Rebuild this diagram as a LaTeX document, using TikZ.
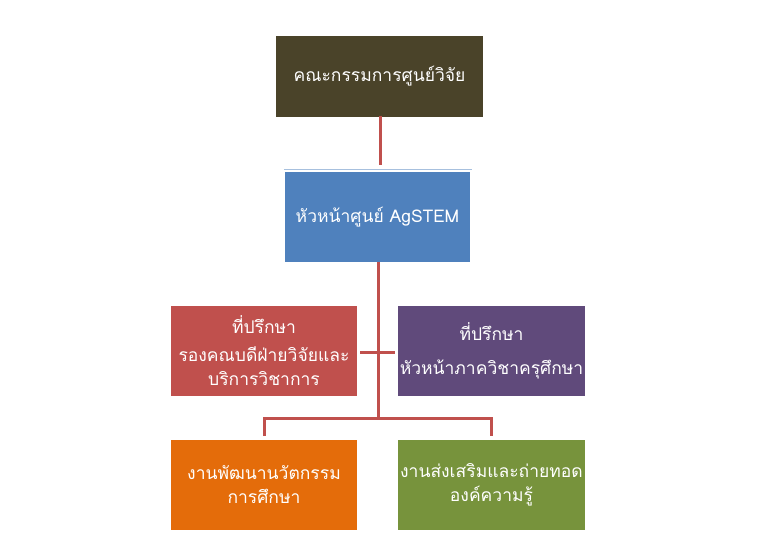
\documentclass[tikz,border=0pt]{standalone}
\usepackage{fontspec}
\newfontfamily\thaifont[Script=Thai]{Loma}
\definecolor{topc}{HTML}{4A4329}
\definecolor{bluec}{HTML}{4F81BD}
\definecolor{redc}{HTML}{C0504D}
\definecolor{purc}{HTML}{604A7B}
\definecolor{orac}{HTML}{E46C0A}
\definecolor{grnc}{HTML}{77933C}
\definecolor{lnc}{HTML}{C0504D}
\begin{document}
\begin{tikzpicture}[x=1pt,y=-1pt,
  box/.style={minimum width=186pt,minimum height=90pt,inner sep=2pt,text=white,align=center,font=\thaifont\fontsize{17.5}{24}\selectfont},
  conn/.style={draw=lnc,line width=3pt}]
\useasboundingbox (0,0) rectangle (758,544);
\node[box,fill=topc,minimum width=207pt,minimum height=81pt] (top) at (379.5,76) {คณะกรรมการศูนย์วิจัย};
\node[box,fill=bluec,minimum width=185pt] (head) at (377.5,217) {หัวหน้าศูนย์ AgSTEM};
\draw[bluec!50,line width=1pt] ([xshift=-1pt,yshift=2pt]head.north west) -- ([xshift=2pt,yshift=2pt]head.north east);
\node[box,fill=redc] (adv1) at (264,351) {ที่ปรึกษา\\[4pt]รองคณบดีฝ่ายวิจัยและ\\บริการวิชาการ};
\node[box,fill=purc,minimum width=185pt] (adv2) at (491.5,351) {ที่ปรึกษา\\[10pt]หัวหน้าภาควิชาครุศึกษา};
\node[box,fill=orac] (w1) at (264,485) {งานพัฒนานวัตกรรม\\การศึกษา};
\node[box,fill=grnc,minimum width=185pt] (w2) at (491.5,485) {งานส่งเสริมและถ่ายทอด\\องค์ความรู้};
\coordinate (c1) at (380,165);
\coordinate (j) at (378,418);
\coordinate (mid) at (378,352);
\draw[conn] ([yshift=1pt]top.south -| c1) -- (c1);
\draw[conn] (head.south -| j) -- (j);
\draw[conn] ([xshift=3pt]adv1.east |- mid) -- ([xshift=-3pt]adv2.west |- mid);
\draw[conn] (w1.north |- j) ++(0,18) -- (w1.north |- j) -- (w2.north |- j) -- ++(0,18);
\end{tikzpicture}
\end{document}
